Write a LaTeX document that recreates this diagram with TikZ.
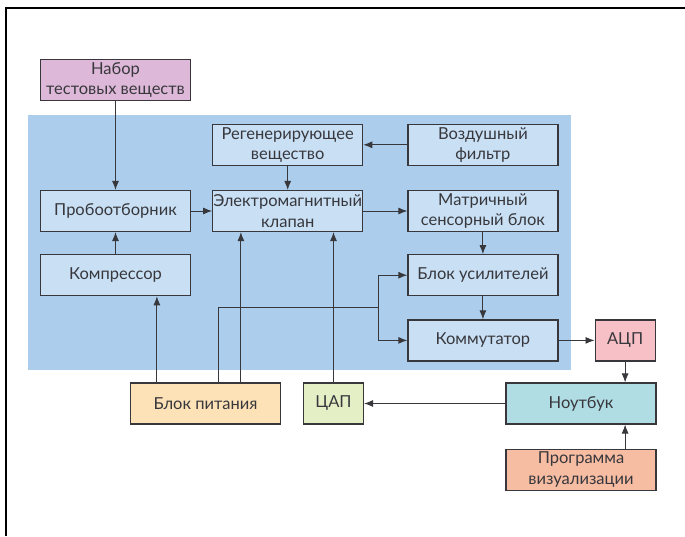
\documentclass[tikz,border=0pt]{standalone}
\usepackage{fontspec}
\setmainfont{Lato}
\usepackage{tikz}
\usetikzlibrary{arrows.meta, positioning, calc}
\definecolor{panel}{RGB}{172,205,235}
\definecolor{inner}{RGB}{200,223,244}
\definecolor{nabor}{RGB}{221,184,216}
\definecolor{acp}{RGB}{247,191,198}
\definecolor{pitan}{RGB}{253,225,183}
\definecolor{cap}{RGB}{229,239,198}
\definecolor{nout}{RGB}{176,220,227}
\definecolor{prog}{RGB}{247,189,163}
\definecolor{ink}{RGB}{55,55,60}

\begin{document}
\begin{tikzpicture}[x=1pt, y=-1pt,
      box/.style={rectangle, draw=ink, line width=1.2pt, align=center,
                  font=\fontsize{16.5}{20.5}\selectfont, text=ink, inner sep=0pt,
                  minimum width=150pt, minimum height=41pt, fill=inner},
      small/.style={box, minimum width=60pt},
      arr/.style={-{Latex[length=9pt, width=7pt]}, line width=0.9pt, ink},
      wire/.style={line width=0.9pt, ink},
    ]
    \useasboundingbox (0,0) rectangle (685,536);
    \draw[line width=2pt] (6,536) -- (6,8) -- (685,8);
    \fill[panel] (28,115) rectangle (571,370);

    \node[box] (probe) at (115.5,211) {Пробоотборник};
    \node[box, fill=nabor, above=89pt of probe] (nabor) {Набор\\тестовых веществ};
    \node[box, below=22pt of probe] (compr) {Компрессор};
    \node[box, right=21pt of probe] (valve) {Электромагнитный\\клапан};
    \node[box, above=24pt of valve] (regen) {Регенерирующее\\вещество};
    \node[box, right=44pt of valve] (matrix) {Матричный\\сенсорный блок};
    \node[box, above=24pt of matrix] (filter) {Воздушный\\фильтр};
    \node[box, below=22pt of matrix] (amps) {Блок усилителей};
    \node[box, below=23pt of amps] (comm) {Коммутатор};
    \node[small, fill=acp, right=36pt of comm] (adc) {АЦП};
    \node[box, fill=nout] (notebook) at (581,403.5) {Ноутбук};
    \node[box, fill=prog, below=24pt of notebook] (program) {Программа\\визуализации};
    \node[small, fill=cap] (dac) at (333.5,403.5) {ЦАП};
    \node[box, fill=pitan] (power) at (205.5,403.5) {Блок питания};

    \coordinate (split) at (378,307);

    \draw[arr] (nabor) -- (probe);
    \draw[arr] (compr) -- (probe);
    \draw[arr] (probe) -- (valve);
    \draw[arr] (regen) -- (valve);
    \draw[arr] (filter) -- (regen);
    \draw[arr] (valve) -- (matrix);
    \draw[arr] (matrix) -- (amps);
    \draw[arr] (amps) -- (comm);
    \draw[arr] (comm) -- (adc);
    \draw[arr] (adc.south) -- (adc.south |- notebook.north);
    \draw[arr] (notebook) -- (dac);
    \draw[arr] (adc.south |- program.north) -- (adc.south |- notebook.south);
    \draw[arr] (dac) -- (dac |- valve.south);
    % power lines
    \draw[arr] ([xshift=27pt]power.north west) -- ([xshift=27pt]power.north west |- compr.south);
    \draw[arr] ([xshift=111pt]power.north west) -- ([xshift=111pt]power.north west |- valve.south);
    \draw[wire] ([xshift=89pt]power.north west) |- (split);
    \draw[arr] (split) |- (amps.west);
    \draw[arr] (split) |- (comm.west);
  \end{tikzpicture}
\end{document}
